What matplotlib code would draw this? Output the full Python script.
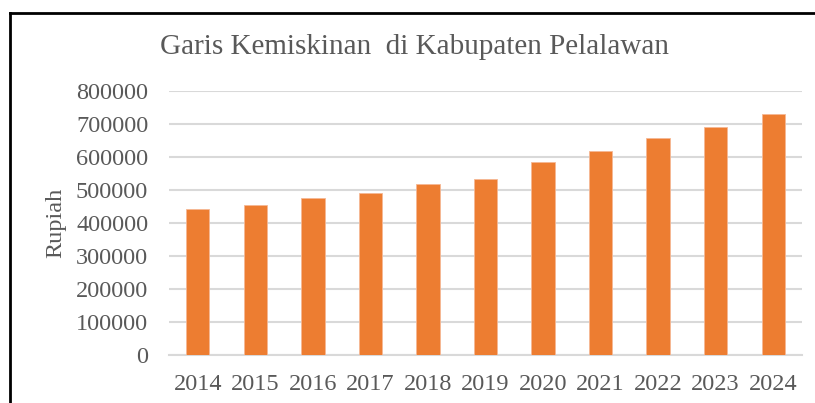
import matplotlib
matplotlib.use("Agg")
import matplotlib.pyplot as plt
from matplotlib.lines import Line2D

years = ["2014", "2015", "2016", "2017", "2018", "2019",
         "2020", "2021", "2022", "2023", "2024"]
garis = [441000, 453500, 474500, 490000, 517000, 534000,
         586000, 619000, 657000, 690000, 731000]
yticks = [0, 100000, 200000, 300000, 400000, 500000, 600000, 700000, 800000]

plt.rcParams['font.family'] = ['Liberation Serif', 'DejaVu Serif']
grey = '#595959'

fig = plt.figure(figsize=(8.15, 4.03), dpi=100)
ax = fig.add_axes([169/815, 1 - 355/403, 633/815, 264/403])

x = range(len(years))
ax.bar(x, garis, width=0.405, color='#ED7D31', edgecolor='#F6B894',
       linewidth=0.6, zorder=3)

ax.set_xlim(-0.5, len(years) - 0.5)
ax.set_ylim(0, 800000)
ax.set_yticks(yticks)
ax.set_yticklabels([str(v) for v in yticks])
ax.set_xticks(list(x))
ax.set_xticklabels(years)
ax.tick_params(axis='both', length=0, labelsize=17.5, labelcolor=grey)
ax.tick_params(axis='y', pad=15)
ax.tick_params(axis='x', pad=14)

ax.yaxis.grid(True, color='#D9D9D9', linewidth=1.5, zorder=0)
ax.set_axisbelow(True)
for s in ['top', 'right', 'left']:
    ax.spines[s].set_visible(False)
ax.spines['bottom'].set_color('#D9D9D9')
ax.spines['bottom'].set_linewidth(1.5)

ax.set_ylabel('Rupiah', fontsize=17.5, color=grey, labelpad=7)
fig.text(0.509, 1 - 47/403, 'Garis Kemiskinan  di Kabupaten Pelalawan',
         ha='center', va='center', fontsize=21, color=grey)

# outer frame (left and top edges visible in the crop)
fig.add_artist(Line2D([9.5/815, 9.5/815], [0, 1 - 13/403],
                      color='black', linewidth=2))
fig.add_artist(Line2D([9.5/815, 1], [1 - 13/403, 1 - 13/403],
                      color='black', linewidth=2))

fig.savefig('out.png', dpi=100)
